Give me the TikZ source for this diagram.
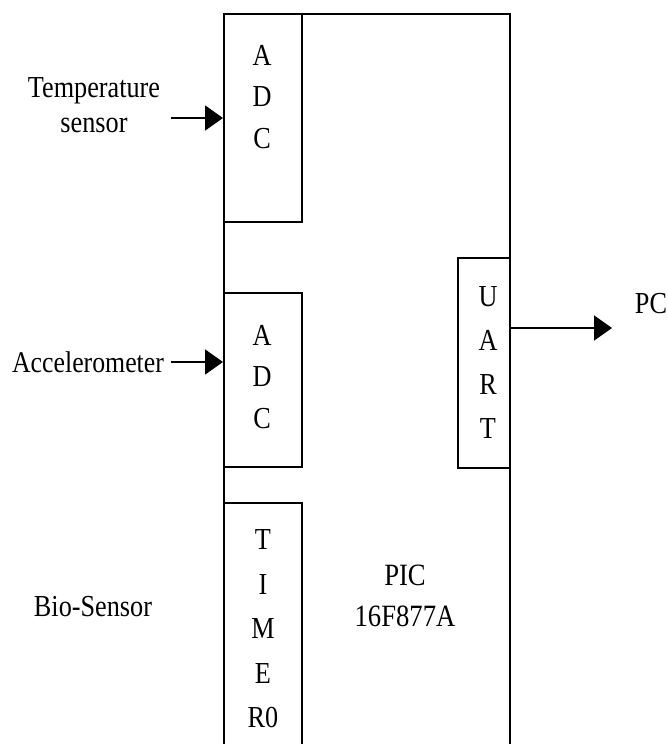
\documentclass[tikz,border=0pt]{standalone}
\usepackage{fontspec}
\setmainfont{Liberation Serif}[FakeStretch=0.86]
\usetikzlibrary{arrows.meta}
\begin{document}
\begin{tikzpicture}[x=1pt,y=-1pt,
  blk/.style={draw=black,line width=1.6pt,inner sep=0pt,anchor=north west},
  lbl/.style={font=\fontsize{30.5pt}{41.5pt}\selectfont,align=center,inner sep=0pt},
  sig/.style={line width=1.8pt,-{Triangle[length=18pt,width=25pt]}}]
\useasboundingbox (0,0) rectangle (668,744);
\clip (0,0) rectangle (668,744);
% main controller body (extends below the picture)
\node[blk,minimum width=286pt,minimum height=780pt] (pic) at (223,13) {};
% internal blocks
\node[blk,minimum width=78pt,minimum height=208pt] (adc1) at (223,13) {};
\node[blk,minimum width=78pt,minimum height=174pt] (adc2) at (223,292) {};
\node[blk,minimum width=78pt,minimum height=280pt] (tmr) at (223,502) {};
\node[blk,minimum width=52pt,minimum height=210pt] (uart) at (457,257) {};
% block labels
\node[lbl] (adc1t) at (262,97) {A\\D\\C};
\node[lbl] (adc2t) at (262,377) {A\\D\\C};
\node[lbl,font=\fontsize{30.5pt}{44pt}\selectfont] (uartt) at (488,363) {U\\A\\R\\T};
\node[lbl,font=\fontsize{30.5pt}{44.5pt}\selectfont] (tmrt) at (263,629) {T\\I\\M\\E\\R0};
\node[lbl,font=\fontsize{31pt}{41pt}\selectfont] (pict) at (405,596) {PIC\\16F877A};
% external labels
\node[lbl,font=\fontsize{30.5pt}{35pt}\selectfont] (temp) at (94,105) {Temperature\\sensor};
\node[lbl,font=\fontsize{30pt}{35pt}\selectfont] (acc) at (88,362) {Accelerometer};
\node[lbl] (bio) at (93,607) {Bio-Sensor};
\node[lbl] (pc) at (651,304) {PC};
% connectors
\coordinate (tin) at (171,118);
\coordinate (ain) at (171,362);
\coordinate (pout) at (612,328);
\draw[sig] (tin) -- (tin -| adc1.west);
\draw[sig] (ain) -- (ain -| adc2.west);
\draw[sig] (pout -| uart.east) -- (pout);
\end{tikzpicture}
\end{document}
